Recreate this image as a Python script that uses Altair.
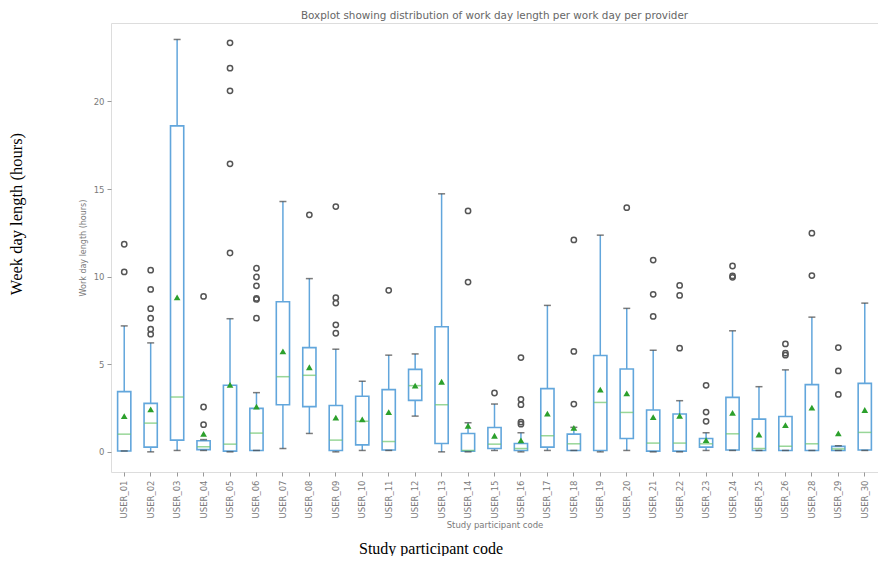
import altair as alt
import pandas as pd

users = ["USER_01", "USER_02", "USER_03", "USER_04", "USER_05", "USER_06", "USER_07",
         "USER_08", "USER_09", "USER_10", "USER_11", "USER_12", "USER_13", "USER_14",
         "USER_15", "USER_16", "USER_17", "USER_18", "USER_19", "USER_20", "USER_21",
         "USER_22", "USER_23", "USER_24", "USER_25", "USER_26", "USER_28", "USER_29",
         "USER_30"]
whisker_low = [0.05, 0.0, 0.08, 0.08, 0.0, 0.08, 0.19, 1.05, 0.0, 0.08, 0.08, 2.04, 0.0, 0.0,
               0.08, 0.0, 0.08, 0.08, 0.0, 0.08, 0.0, 0.0, 0.08, 0.08, 0.08, 0.08, 0.08, 0.08, 0.08]
q1 = [0.05, 0.27, 0.67, 0.13, 0.04, 0.08, 2.69, 2.58, 0.08, 0.40, 0.11, 2.94, 0.48, 0.04,
      0.19, 0.08, 0.27, 0.08, 0.08, 0.76, 0.04, 0.04, 0.27, 0.11, 0.08, 0.08, 0.08, 0.08, 0.11]
median = [1.01, 1.64, 3.13, 0.29, 0.44, 1.07, 4.29, 4.37, 0.67, 1.74, 0.59, 3.78, 2.69, 0.08,
          0.44, 0.19, 0.92, 0.46, 2.82, 2.25, 0.50, 0.50, 0.46, 1.03, 0.19, 0.32, 0.46, 0.17, 1.11]
q3 = [3.44, 2.77, 18.61, 0.63, 3.80, 2.48, 8.57, 5.95, 2.65, 3.17, 3.55, 4.71, 7.14, 1.05,
      1.39, 0.48, 3.61, 1.01, 5.50, 4.73, 2.39, 2.16, 0.76, 3.11, 1.87, 2.02, 3.84, 0.31, 3.91]
whisker_high = [7.19, 6.22, 23.54, 0.70, 7.60, 3.38, 14.29, 9.89, 5.86, 4.03, 5.52, 5.59, 14.73, 1.66,
                2.73, 1.09, 8.36, 1.40, 12.37, 8.19, 5.80, 2.92, 1.09, 6.91, 3.72, 4.68, 7.69, 0.35, 8.49]
mean = [2.04, 2.42, 8.82, 1.03, 3.82, 2.58, 5.74, 4.83, 1.95, 1.85, 2.27, 3.78, 4.00, 1.49,
        0.92, 0.65, 2.18, 1.37, 3.55, 3.34, 1.98, 2.06, 0.67, 2.23, 0.99, 1.53, 2.52, 1.05, 2.39]

outlier_user = (["USER_01"] * 2 + ["USER_02"] * 6 + ["USER_04"] * 3 + ["USER_05"] * 5 +
                ["USER_06"] * 6 + ["USER_08"] * 1 + ["USER_09"] * 5 + ["USER_11"] * 1 +
                ["USER_14"] * 2 + ["USER_15"] * 1 + ["USER_16"] * 5 + ["USER_18"] * 3 +
                ["USER_20"] * 1 + ["USER_21"] * 3 + ["USER_22"] * 3 + ["USER_23"] * 3 +
                ["USER_24"] * 3 + ["USER_26"] * 3 + ["USER_28"] * 2 + ["USER_29"] * 3)
outlier_value = [10.27, 11.85,
                 6.72, 7.0, 7.63, 8.17, 9.27, 10.37,
                 1.55, 2.56, 8.87,
                 11.35, 16.44, 20.61, 21.9, 23.35,
                 7.63, 8.70, 8.76, 9.48, 9.98, 10.48,
                 13.53,
                 6.77, 7.25, 8.49, 8.80, 14.0,
                 9.22,
                 9.69, 13.75,
                 3.36,
                 1.58, 1.70, 2.69, 3.0, 5.38,
                 2.73, 5.73, 12.1,
                 13.94,
                 7.73, 8.99, 10.95,
                 5.92, 8.93, 9.50,
                 1.74, 2.27, 3.80,
                 9.96, 10.04, 10.61,
                 5.52, 5.63, 6.16,
                 10.06, 12.48,
                 3.28, 4.62, 5.95]

title_text = "Boxplot showing distribution of work day length per work day per provider"
inner_y_title = "Work day length (hours)"
inner_x_title = "Study participant code"
outer_y_label = "Week day length (hours)"
outer_x_label = "Study participant code"

stats = pd.DataFrame({"user": users, "lo": whisker_low, "q1": q1, "med": median,
                      "q3": q3, "hi": whisker_high, "mean": mean})
outs = pd.DataFrame({"user": outlier_user, "value": outlier_value})

W, H = 767, 449
BLUE = "#62a6dc"
GREEN_MED = "#6cc46c"
GREEN_TRI = "#2ca02c"
GRAY = "#7a7a7a"

xscale = alt.Scale(domain=users, paddingInner=0.5, paddingOuter=0.25)
yscale = alt.Scale(domain=[-1.15, 24.48], nice=False, zero=False)

x_enc = alt.X("user:N", scale=xscale, sort=users, title=inner_x_title,
              axis=alt.Axis(labelAngle=-90, labelFontSize=8.5, labelColor=GRAY,
                            tickColor="#999", tickSize=4, labelPadding=4,
                            titleFontSize=8.5, titleColor=GRAY, titleFontWeight="normal",
                            titlePadding=3, domain=False))
y_axis = alt.Axis(values=[0, 5, 10, 15, 20], labelFontSize=8.5, labelColor=GRAY,
                  tickColor="#999", tickSize=4, labelPadding=3, grid=False, domain=False,
                  titleFontSize=8, titleColor=GRAY, titleFontWeight="normal", titlePadding=6)

base = alt.Chart(stats)

lower_whisker = base.mark_rule(color=BLUE, strokeWidth=1.5).encode(
    x=x_enc, y=alt.Y("lo:Q", scale=yscale, axis=y_axis, title=inner_y_title), y2="q1:Q")
upper_whisker = base.mark_rule(color=BLUE, strokeWidth=1.5).encode(
    x=x_enc, y=alt.Y("q3:Q", scale=yscale), y2="hi:Q")
box = base.mark_bar(fill="white", stroke=BLUE, strokeWidth=1.6).encode(
    x=x_enc, y=alt.Y("q1:Q", scale=yscale), y2="q3:Q")
med_tick = base.mark_tick(color=GREEN_MED, thickness=1.5, size=13).encode(
    x=x_enc, y=alt.Y("med:Q", scale=yscale))
cap_lo = base.mark_tick(color="#444", thickness=1.5, size=7).encode(
    x=x_enc, y=alt.Y("lo:Q", scale=yscale))
cap_hi = base.mark_tick(color="#444", thickness=1.5, size=7).encode(
    x=x_enc, y=alt.Y("hi:Q", scale=yscale))
mean_pts = base.mark_point(shape="triangle-up", filled=True, color=GREEN_TRI, size=45,
                           opacity=1).encode(x=x_enc, y=alt.Y("mean:Q", scale=yscale))
out_pts = alt.Chart(outs).mark_point(shape="circle", filled=False, color="#555",
                                     strokeWidth=1.5, size=28, opacity=1).encode(
    x=x_enc, y=alt.Y("value:Q", scale=yscale))

outer_y = alt.Chart(alt.Data(values=[{}])).mark_text(
    text=outer_y_label, font="Liberation Serif", fontSize=16.5, color="black",
    angle=270, align="center", baseline="middle").encode(
    x=alt.value(-94), y=alt.value(191))
outer_x = alt.Chart(alt.Data(values=[{}])).mark_text(
    text=outer_x_label, font="Liberation Serif", fontSize=16, color="black",
    align="center", baseline="alphabetic").encode(
    x=alt.value(320), y=alt.value(531))

chart = alt.layer(lower_whisker, upper_whisker, box, med_tick, cap_lo, cap_hi,
                  out_pts, mean_pts, outer_y, outer_x).properties(
    width=W, height=H,
    title=alt.TitleParams(title_text, fontSize=10.4, font="DejaVu Sans", color="#666",
                          fontWeight="normal", offset=2, anchor="middle"),
    autosize=alt.AutoSizeParams(type="none"),
    padding={"left": 103, "top": 15, "right": 0, "bottom": 84},
).configure_view(stroke="#8c8c8c", strokeWidth=1.2).configure(
    font="DejaVu Sans", background="white")

chart.save("out.html", embed_options={"renderer": "svg", "actions": False})
